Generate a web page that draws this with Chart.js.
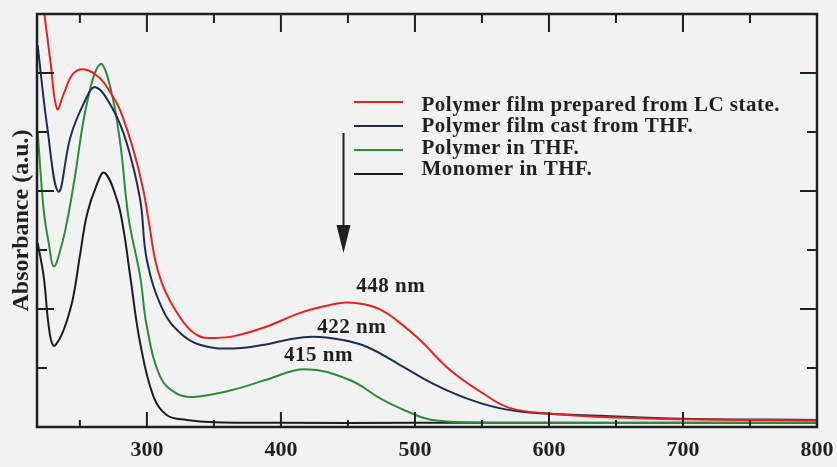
<!DOCTYPE html>
<html>
<head>
<meta charset="utf-8">
<script src="https://cdn.jsdelivr.net/npm/chart.js@4.4.1/dist/chart.umd.min.js"></script>
<style>
html,body{margin:0;padding:0;background:#f2f2f2;}
#wrap{width:837px;height:467px;}
</style>
</head>
<body>
<div id="wrap"><canvas id="canvasG1" width="837" height="467"></canvas></div>
<script>
//데이터 (파장 nm / 흡광도 a.u.)
var redNm    = [218.5, 223.5, 228, 233, 238, 245, 254, 265, 273, 280, 290, 297, 302, 306, 311, 317, 330, 340, 351, 365, 389, 414, 435, 448, 462, 476, 489, 504, 526, 550, 571, 600, 650, 700, 800];
var redAbs   = [7.8, 7.0, 6.2, 5.39, 5.65, 5.99, 6.06, 5.91, 5.66, 5.37, 4.69, 4.05, 3.4, 2.85, 2.45, 2.15, 1.70, 1.53, 1.51, 1.54, 1.70, 1.93, 2.06, 2.11, 2.08, 1.97, 1.76, 1.47, 0.97, 0.58, 0.32, 0.23, 0.16, 0.13, 0.11];
var navyNm   = [218.5, 225.6, 234, 243, 253, 261.5, 275, 285, 295, 300, 312, 325, 340, 364, 389, 405, 424, 445, 464, 489, 513, 538, 563, 588, 638, 700, 800];
var navyAbs  = [6.47, 5.09, 3.99, 4.92, 5.49, 5.76, 5.37, 4.81, 3.85, 2.83, 1.98, 1.59, 1.39, 1.33, 1.40, 1.48, 1.53, 1.48, 1.36, 1.05, 0.74, 0.49, 0.32, 0.24, 0.19, 0.14, 0.12];
var greenNm  = [218.5, 223, 226.8, 230.5, 236, 241, 246, 255.3, 265.2, 272.7, 280.1, 286.3, 295, 300, 310, 322, 335, 364.5, 389, 418, 451, 476, 501, 513, 538, 600, 700, 800];
var greenAbs = [5.0, 3.68, 3.11, 2.72, 3.05, 3.55, 4.2, 5.49, 6.15, 5.76, 4.81, 3.55, 2.55, 1.70, 0.85, 0.57, 0.51, 0.63, 0.80, 0.98, 0.80, 0.46, 0.20, 0.12, 0.08, 0.07, 0.07, 0.07];
var blackNm  = [218.5, 223, 226.8, 230.2, 235, 240, 245, 250, 255.3, 262, 268.2, 277.7, 282.6, 287.6, 295, 305, 315, 330, 350, 400, 500, 600, 700, 800];
var blackAbs = [3.12, 2.55, 1.70, 1.38, 1.5, 1.78, 2.2, 2.9, 3.6, 4.07, 4.31, 3.85, 3.34, 2.55, 1.42, 0.51, 0.20, 0.12, 0.08, 0.07, 0.07, 0.07, 0.07, 0.07];

var seriesNames  = ["Polymer film prepared from LC state.", "Polymer film cast from THF.", "Polymer in THF.", "Monomer in THF."];
var seriesColors = ["#e8231f", "#1f2d4f", "#2f8a3c", "#1a1d22"];
var xTickValues  = [300, 400, 500, 600, 700, 800];
var peakLabels   = ["448 nm", "422 nm", "415 nm"];
var peakLabelX   = [482, 452.8, 428];
var peakLabelY   = [2.28, 1.60, 1.12];

var FONT = "'Liberation Serif', 'Times New Roman', serif";
var INK = "#1c2220";

function toXY(xs, ys){
	var out = [];
	for(var i=0;i<xs.length;i++){ out.push({x: xs[i], y: ys[i]}); }
	return out;
}

//배경
var bgPlugin = {
	id: "bg",
	beforeDraw: function(chart){
		var ctx = chart.ctx;
		ctx.save();
		ctx.fillStyle = "#f2f2f2";
		ctx.fillRect(0, 0, chart.width, chart.height);
		ctx.restore();
	}
};

//테두리, 안쪽 눈금, 범례, 주석
var framePlugin = {
	id: "frame",
	afterDraw: function(chart){
		var ctx = chart.ctx;
		var a = chart.chartArea;
		var xs = chart.scales.x, ys = chart.scales.y;
		ctx.save();
		ctx.strokeStyle = INK;
		ctx.lineWidth = 2.5;
		ctx.strokeRect(a.left, a.top, a.right - a.left, a.bottom - a.top);

		ctx.lineWidth = 2;
		ctx.beginPath();
		for(var v=250; v<=800; v+=50){
			var px = xs.getPixelForValue(v);
			var major = (v % 100 == 0);
			ctx.moveTo(px, a.top); ctx.lineTo(px, a.top + (major ? 18 : 9));
			ctx.moveTo(px, a.bottom); ctx.lineTo(px, a.bottom - (major ? 15 : 7));
		}
		for(var k=1; k<=6; k++){
			var py = ys.getPixelForValue(k);
			var len = (k % 2 == 0) ? 17 : 10;
			ctx.moveTo(a.left, py); ctx.lineTo(a.left + len, py);
			ctx.moveTo(a.right, py); ctx.lineTo(a.right - len, py);
		}
		ctx.stroke();

		//범례
		for(var i=0;i<seriesNames.length;i++){
			var ly = 102 + 24 * i;
			ctx.strokeStyle = seriesColors[i];
			ctx.lineWidth = 2;
			ctx.beginPath(); ctx.moveTo(354, ly); ctx.lineTo(403, ly); ctx.stroke();
			ctx.fillStyle = INK;
			ctx.font = "bold 21px " + FONT;
			ctx.textAlign = "left";
			ctx.textBaseline = "alphabetic";
			ctx.letterSpacing = "0.5px";
			ctx.fillText(seriesNames[i], 421.5, 111 + 21.4 * i);
		}

		//피크 라벨
		ctx.textAlign = "center";
		for(var j=0;j<peakLabels.length;j++){
			ctx.fillText(peakLabels[j], xs.getPixelForValue(peakLabelX[j]), ys.getPixelForValue(peakLabelY[j]));
		}
		ctx.letterSpacing = "0px";

		//화살표
		ctx.strokeStyle = INK;
		ctx.fillStyle = INK;
		ctx.lineWidth = 2;
		ctx.beginPath(); ctx.moveTo(343.5, 133); ctx.lineTo(343.5, 230); ctx.stroke();
		ctx.beginPath();
		ctx.moveTo(336.5, 225); ctx.lineTo(350.5, 225); ctx.lineTo(343.5, 253); ctx.closePath();
		ctx.fill();
		ctx.restore();
	}
};

var chartData = {
	datasets: [
		{ label: seriesNames[0], data: toXY(redNm, redAbs),     borderColor: seriesColors[0] },
		{ label: seriesNames[1], data: toXY(navyNm, navyAbs),   borderColor: seriesColors[1] },
		{ label: seriesNames[2], data: toXY(greenNm, greenAbs), borderColor: seriesColors[2] },
		{ label: seriesNames[3], data: toXY(blackNm, blackAbs), borderColor: seriesColors[3] }
	]
};
chartData.datasets.forEach(function(d){
	d.borderWidth = 2;
	d.pointRadius = 0;
	d.fill = false;
	d.tension = 0.4;
});

var ctx = document.getElementById("canvasG1").getContext("2d");
window.myLineG1 = new Chart(ctx, {
	type: "line",
	data: chartData,
	options: {
		responsive: false,
		animation: false,
		devicePixelRatio: 1,
		layout: { padding: { top: 14, right: 20, left: 0, bottom: 0 } },
		plugins: { legend: { display: false }, tooltip: { enabled: false } },
		scales: {
			x: {
				type: "linear", min: 218, max: 800,
				grid: { display: false, drawTicks: false },
				border: { display: false },
				afterBuildTicks: function(s){ s.ticks = xTickValues.map(function(v){ return {value: v}; }); },
				afterFit: function(s){ s.height = 40; s.paddingLeft = 0; s.paddingRight = 0; },
				ticks: { color: INK, padding: 10, maxRotation: 0, font: { family: FONT, size: 22, weight: "bold" } }
			},
			y: {
				min: 0, max: 7,
				grid: { display: false, drawTicks: false },
				border: { display: false },
				ticks: { display: false },
				afterFit: function(s){ s.width = 37; },
				title: { display: true, text: "Absorbance (a.u.)", color: INK, padding: { top: 7, bottom: 0 },
					font: { family: FONT, size: 24, weight: "bold" } }
			}
		}
	},
	plugins: [bgPlugin, framePlugin]
});
</script>
</body>
</html>
